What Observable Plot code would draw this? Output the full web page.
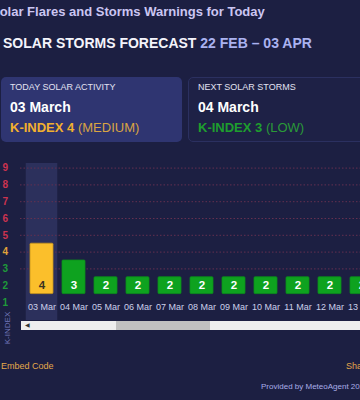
<!DOCTYPE html>
<html><head><meta charset="utf-8">
<script src="https://cdn.jsdelivr.net/npm/d3@7"></script>
<script src="https://cdn.jsdelivr.net/npm/@observablehq/plot@0.6"></script>
<style>
html,body{margin:0;padding:0;background:#1c1f42;width:360px;height:400px;overflow:hidden;font-family:"Liberation Sans",Arial,sans-serif;}
.abs{position:absolute;white-space:nowrap;}
#t1{left:-9px;top:5px;font-size:13px;line-height:13px;font-weight:bold;color:#cbc6f2;}
#t2{left:3px;top:36px;font-size:14px;line-height:14px;font-weight:bold;color:#f4f4fb;}
#t2 span{color:#aab2f0;}
.card{position:absolute;top:77px;height:65px;border-radius:5px;box-sizing:border-box;}
#c1{left:1px;width:181px;background:#2f3571;}
#c2{left:188px;width:180px;background:#1e2146;border:1px solid #2b3060;}
.lab{font-size:9px;line-height:9px;color:#e2e2f2;}
.day{font-size:14px;line-height:14px;font-weight:bold;color:#ffffff;}
.kx{font-size:13px;line-height:13px;}
.kx b{font-weight:bold;}
#chart{position:absolute;left:0;top:150px;width:360px;height:185px;overflow:hidden;}
#kname{left:-12px;top:324px;font-size:8px;line-height:8px;color:#7378bb;transform:rotate(-90deg);transform-origin:center;width:40px;text-align:center;}
#track{position:absolute;left:21px;top:321px;width:345px;height:9px;background:#eeeeee;}
#thumb{position:absolute;left:95px;top:0;width:94px;height:9px;background:#c1c1c1;}
#arrow{position:absolute;left:4px;top:0;font-size:6px;line-height:9px;color:#333;}
#embed{left:1px;top:362px;font-size:9px;line-height:9px;color:#e3a84a;}
#share{left:346px;top:362px;font-size:9px;line-height:9px;color:#e3a84a;}
#prov{left:261px;top:383px;font-size:8px;line-height:8px;color:#a9aee8;}
</style></head><body>
<div class="abs" id="t1">Solar Flares and Storms Warnings for Today</div>
<div class="abs" id="t2">SOLAR STORMS FORECAST <span>22 FEB – 03 APR</span></div>
<div class="card" id="c1"></div>
<div class="card" id="c2"></div>
<div class="abs lab" style="left:10px;top:83px">TODAY SOLAR ACTIVITY</div>
<div class="abs day" style="left:10px;top:100px">03 March</div>
<div class="abs kx" style="left:10px;top:121px;color:#f2b02e"><b>K-INDEX 4</b> <span style="color:#d9a443">(MEDIUM)</span></div>
<div class="abs lab" style="left:198px;top:83px">NEXT SOLAR STORMS</div>
<div class="abs day" style="left:198px;top:100px">04 March</div>
<div class="abs kx" style="left:198px;top:121px;color:#1e9e2e"><b>K-INDEX 3</b> <span style="color:#2a9a38">(LOW)</span></div>
<div id="chart"></div>
<div id="track"><div id="arrow">◀</div><div id="thumb"></div></div>
<div class="abs" id="kname">K-INDEX</div>
<div class="abs" id="embed">Embed Code</div>
<div class="abs" id="share">Share</div>
<div class="abs" id="prov">Provided by MeteoAgent 2024</div>
<script>
const dates = ["03 Mar","04 Mar","05 Mar","06 Mar","07 Mar","08 Mar","09 Mar","10 Mar","11 Mar","12 Mar","13 Mar"];
const kValues = [4,3,2,2,2,2,2,2,2,2,2];
const kTicks = [1,2,3,4,5,6,7,8,9];
const gridTicks = [3,4,5,6,7,8,9];
const todayDate = "03 Mar";

const bars = dates.map((d,i) => ({date: d, k: kValues[i]}));
const kColor = k => k >= 5 ? "#cc3350" : k === 4 ? "#e2a33a" : "#1f9a3a";
const barFill = k => k >= 4 ? "#fbbf2b" : "#0ea21f";
const n = dates.length;

const chart = Plot.plot({
  width: 360,
  height: 185,
  marginLeft: 20,
  marginRight: 0,
  marginTop: 13,
  marginBottom: 15,
  style: {background: "transparent", fontFamily: "'Liberation Sans', Arial, sans-serif", overflow: "visible"},
  x: {type: "band", domain: dates, range: [25.5, 25.5 + 32 * n], paddingInner: 0.266, paddingOuter: 0.133, axis: null},
  y: {domain: [1, 9], range: [152, 17.6], axis: null},
  marks: [
    Plot.cell([todayDate], {x: d => d, fill: "#2c305c", insetLeft: -4.25, insetRight: -4.25}),
    Plot.ruleY(gridTicks, {y: d => d, stroke: "#64304f", strokeDasharray: "1.5,2", strokeWidth: 1}),
    Plot.barY(bars, {x: "date", y1: 1.5, y2: d => d.k + 0.5, fill: d => barFill(d.k), stroke: d => d.k >= 4 ? "#c6941c" : "#0b8f1a", strokeWidth: 0.8, rx: 1}),
    Plot.text(bars, {x: "date", y: 2, text: d => String(d.k), fill: d => d.k >= 4 ? "#3a3322" : "#ffffff", fontSize: 11.5, fontWeight: "bold"}),
    Plot.text(kTicks, {y: d => d, text: d => String(d), frameAnchor: "left", textAnchor: "start", dx: -18, fill: d => kColor(d), fontSize: 10, fontWeight: "bold"}),
    Plot.axisX({anchor: "bottom", tickSize: 0, tickPadding: 0, dy: -17, fontSize: 9, fill: "#ccd0ea", label: null})
  ]
});
document.getElementById("chart").appendChild(chart);
</script>
</body></html>
